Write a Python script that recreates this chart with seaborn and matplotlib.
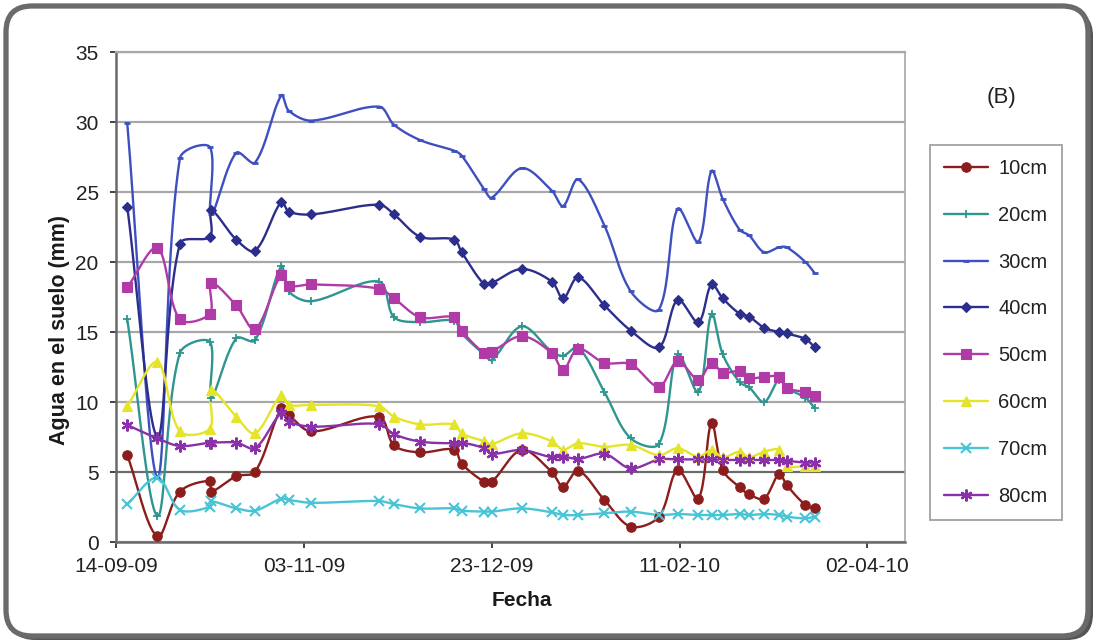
import numpy as np
import pandas as pd
import matplotlib
matplotlib.use("Agg")
import matplotlib.pyplot as plt
from matplotlib.lines import Line2D
from matplotlib.patches import FancyBboxPatch
import seaborn as sns

# Measurement dates, as days after 14-09-09
dias = [3, 11, 17, 25, 25.3, 32, 37, 44, 46, 52, 70, 74, 81, 90, 92, 98, 100,
        108, 116, 119, 123, 130, 137, 144.5, 149.5, 155, 158.5, 161.5, 166,
        168.5, 172.5, 176.5, 178.5, 183.5, 186]

cm10 = [6.2, 0.4, 3.6, 4.36, 3.6, 4.7, 5.0, 9.55, 9.07, 7.9, 8.95, 6.9, 6.4,
        6.6, 5.6, 4.3, 4.3, 6.57, 5.0, 3.95, 5.1, 3.0, 1.1, 1.8, 5.14, 3.1,
        8.5, 5.14, 3.9, 3.4, 3.1, 4.86, 4.07, 2.64, 2.4]
cm20 = [15.9, 1.86, 13.5, 14.3, 10.3, 14.55, 14.4, 19.7, 17.9, 17.2, 18.6,
        16.05, 15.7, 15.8, 14.9, 13.4, 13.0, 15.4, 13.6, 13.3, 13.9, 10.7,
        7.4, 7.0, 13.4, 10.7, 16.3, 13.4, 11.4, 11.05, 10.0, 11.6, 11.0,
        10.3, 9.55]
cm30 = [29.9, 4.6, 27.4, 28.2, 23.4, 27.8, 27.1, 31.9, 30.8, 30.1, 31.1,
        29.8, 28.7, 27.95, 27.6, 25.2, 24.6, 26.7, 25.1, 24.0, 25.9, 22.6,
        17.9, 16.6, 23.8, 21.45, 26.5, 24.5, 22.3, 21.9, 20.7, 21.05, 21.05,
        20.0, 19.2]
cm40 = [23.95, 7.5, 21.3, 21.8, 23.7, 21.6, 20.8, 24.3, 23.6, 23.4, 24.1,
        23.4, 21.8, 21.6, 20.7, 18.4, 18.5, 19.5, 18.6, 17.4, 18.9, 16.9,
        15.1, 13.9, 17.3, 15.7, 18.4, 17.4, 16.3, 16.1, 15.3, 15.0, 14.9,
        14.5, 13.9]
cm50 = [18.2, 21.0, 15.9, 16.3, 18.5, 16.9, 15.2, 19.1, 18.3, 18.4, 18.1,
        17.4, 16.05, 16.05, 15.1, 13.5, 13.6, 14.7, 13.5, 12.3, 13.8, 12.8,
        12.7, 11.1, 12.9, 11.6, 12.8, 12.1, 12.2, 11.7, 11.8, 11.8, 11.0,
        10.7, 10.4]
cm60 = [9.7, 12.85, 7.9, 8.1, 10.86, 8.95, 7.76, 10.5, 9.8, 9.8, 9.7, 8.95,
        8.4, 8.4, 7.76, 7.2, 7.0, 7.76, 7.2, 6.6, 7.05, 6.8, 6.93, 6.2, 6.7,
        6.1, 6.57, 6.05, 6.45, 6.05, 6.45, 6.57, 5.43, 5.43, 5.43]
cm70 = [2.7, 4.6, 2.3, 2.5, 2.9, 2.4, 2.24, 3.1, 3.0, 2.8, 2.93, 2.7, 2.4,
        2.4, 2.24, 2.17, 2.17, 2.4, 2.12, 1.93, 1.93, 2.05, 2.17, 1.93, 2.0,
        1.93, 1.93, 1.93, 2.0, 1.93, 2.0, 1.93, 1.81, 1.69, 1.81]
cm80 = [8.36, 7.4, 6.86, 7.1, 7.1, 7.1, 6.7, 9.2, 8.6, 8.24, 8.43, 7.7, 7.17,
        7.05, 7.1, 6.7, 6.3, 6.57, 6.05, 6.1, 5.93, 6.3, 5.26, 5.9, 5.9, 5.9,
        5.9, 5.86, 5.86, 5.86, 5.86, 5.86, 5.8, 5.67, 5.67]

etiquetas = ["10cm", "20cm", "30cm", "40cm", "50cm", "60cm", "70cm", "80cm"]
series = [cm10, cm20, cm30, cm40, cm50, cm60, cm70, cm80]

fechas_ticks = [0, 50, 100, 150, 200]
etiquetas_x = ["14-09-09", "03-11-09", "23-12-09", "11-02-10", "02-04-10"]
y_ticks = [0, 5, 10, 15, 20, 25, 30, 35]

colores = ["#8c1d1d", "#2f958f", "#3e4fbf", "#2c2e8c",
           "#b03aa6", "#e4e42a", "#48c4d6", "#8a30a8"]
marcadores = [
    dict(marker="o", ms=6.8, mew=0.8),
    dict(marker="+", ms=6, mew=1.3),
    dict(marker="_", ms=5, mew=2.0),
    dict(marker="D", ms=5.6, mew=0.8),
    dict(marker="s", ms=7.2, mew=0.8),
    dict(marker="^", ms=7.8, mew=0.8),
    dict(marker="x", ms=6.5, mew=1.5),
    dict(marker=(6, 2, 0), ms=8.5, mew=1.6),
]

# screen scale of one day and one mm, used to weight the curve tangents
ESC_X, ESC_Y = 3.76, 14.0


def suavizar(x, y, n=24):
    """Smoothed curve through the points with chord-weighted Bezier segments."""
    p = np.column_stack([np.asarray(x, float) * ESC_X,
                         np.asarray(y, float) * ESC_Y])
    m = len(p)
    d = np.hypot(*np.diff(p, axis=0).T)
    t = np.linspace(0, 1, n)[:, None]
    trozos = []
    for i in range(m - 1):
        p0, p1 = p[i], p[i + 1]
        if i > 0:
            tg0 = p[i + 1] - p[i - 1]
            c1 = p0 + tg0 * d[i] / (d[i - 1] + d[i] + 1e-9) / 3.0
        else:
            c1 = p0 + (p1 - p0) / 3.0
        if i < m - 2:
            tg1 = p[i + 2] - p[i]
            c2 = p1 - tg1 * d[i] / (d[i] + d[i + 1] + 1e-9) / 3.0
        else:
            c2 = p1 - (p1 - p0) / 3.0
        seg = ((1 - t) ** 3) * p0 + 3 * ((1 - t) ** 2) * t * c1 \
            + 3 * (1 - t) * t ** 2 * c2 + t ** 3 * p1
        trozos.append(seg if i == 0 else seg[1:])
    c = np.vstack(trozos)
    return c[:, 0] / ESC_X, c[:, 1] / ESC_Y


sns.set_theme(style="white")
plt.rcParams["font.family"] = ["Liberation Sans", "DejaVu Sans"]

fig = plt.figure(figsize=(11, 6.43), dpi=100)
fig.patch.set_facecolor("white")

# rounded frame with a soft shadow
sombra = FancyBboxPatch((0.09, 0.03), 10.84, 6.30,
                        boxstyle="round,pad=0,rounding_size=0.26",
                        transform=fig.dpi_scale_trans, facecolor="#555555",
                        edgecolor="none", zorder=0)
marco = FancyBboxPatch((0.06, 0.07), 10.82, 6.30,
                       boxstyle="round,pad=0,rounding_size=0.26",
                       transform=fig.dpi_scale_trans, facecolor="white",
                       edgecolor="#6a6a6a", linewidth=3.8, zorder=0.5)
fig.patches.extend([sombra, marco])

ax = fig.add_axes([116 / 1100, 1 - 542 / 643, (905 - 116) / 1100, (542 - 52) / 643])
ax.set_facecolor("white")
ax.set_zorder(2)

manejadores = []
for vals, lab, col, mk in zip(series, etiquetas, colores, marcadores):
    sx, sy = suavizar(dias, vals)
    sns.lineplot(x=sx, y=sy, sort=False, estimator=None, color=col,
                 linewidth=1.7, ax=ax, zorder=3)
    ax.plot(dias, vals, linestyle="none", color=col, markeredgecolor=col,
            zorder=4, **mk)
    manejadores.append(Line2D([0], [0], color=col, linewidth=1.7,
                              markeredgecolor=col, **mk))

ax.set_xlim(0, 210)
ax.set_ylim(0, 35)
ax.set_xticks(fechas_ticks)
ax.set_xticklabels(etiquetas_x)
ax.set_yticks(y_ticks)
ax.tick_params(axis="both", labelsize=15, colors="#222222", length=4.5,
               width=1.2, direction="out", bottom=True, left=True)
ax.tick_params(axis="y", pad=8)
ax.tick_params(axis="x", pad=6)
ax.yaxis.grid(True, color="#a8a8a8", linewidth=1.6, zorder=1)
ax.xaxis.grid(False)
ax.yaxis.get_gridlines()[1].set_color("#6a6a6a")
ax.set_axisbelow(True)
for lado in ["left", "bottom"]:
    ax.spines[lado].set_color("#6a6a6a")
    ax.spines[lado].set_linewidth(1.8)
ax.spines["top"].set_color("#a8a8a8")
ax.spines["top"].set_linewidth(1.6)
ax.spines["right"].set_color("#a8a8a8")
ax.spines["right"].set_linewidth(1.2)
ax.set_xlabel("")
ax.set_ylabel("")

fig.text(522 / 1100, 1 - 601 / 643, "Fecha", fontsize=15, fontweight="bold",
         ha="center", va="center", color="#1a1a1a")
fig.text(59 / 1100, 1 - 330 / 643, "Agua en el suelo (mm)", fontsize=15.5,
         fontweight="bold", rotation=90, ha="center", va="center",
         color="#1a1a1a")
fig.text(1001 / 1100, 1 - 97 / 643, "(B)", fontsize=16, ha="center",
         va="center", color="#222222")

leg = fig.legend(manejadores, etiquetas, loc="upper left",
                 bbox_to_anchor=(930 / 1100, 1 - 145 / 643), fontsize=14.5,
                 frameon=True, fancybox=False, labelspacing=1.38,
                 handlelength=2.2, handletextpad=0.5, borderpad=0.7,
                 borderaxespad=0)
leg.get_frame().set_edgecolor("#8a8a8a")
leg.get_frame().set_linewidth(1.3)
for t in leg.get_texts():
    t.set_color("#222222")

fig.savefig("out.png", dpi=100)
